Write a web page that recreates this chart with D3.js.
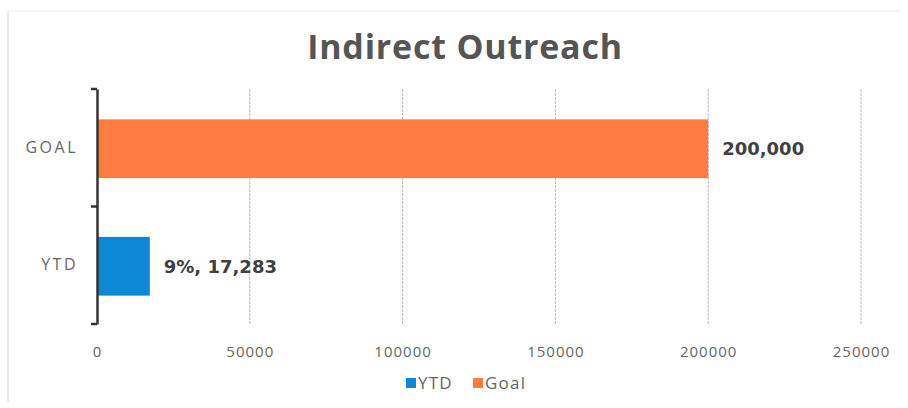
<!DOCTYPE html>
<html>
<head>
<meta charset="utf-8">
<script src="https://cdn.jsdelivr.net/npm/d3@7"></script>
<style>
  body { margin: 0; background: #fff; }
  svg { font-family: 'Open Sans', 'Liberation Sans', sans-serif; }
</style>
</head>
<body>
<svg id="chart"></svg>
<script>
const categories = ['GOAL', 'YTD'];
const values = [200000, 17283];
const barLabels = ['200,000', '9%, 17,283'];
const seriesNames = ['Goal', 'YTD'];
const legendNames = ['YTD', 'Goal'];
const xTicks = [0, 50000, 100000, 150000, 200000, 250000];

const width = 908;
const height = 408;

const colors = { YTD: '#0b89d6', Goal: '#fe7c42' };

const svg = d3.select('#chart')
  .attr('width', width)
  .attr('height', height);

// faint scan frame
svg.append('line')
  .attr('x1', 8).attr('x2', 8).attr('y1', 12).attr('y2', 402)
  .attr('stroke', '#d4d4d4').attr('stroke-width', 1);
svg.append('line')
  .attr('x1', 8).attr('x2', 900).attr('y1', 11).attr('y2', 11)
  .attr('stroke', '#ececec').attr('stroke-width', 1);

const margin = { top: 89, left: 97, right: 47, bottom: 84 };
const x = d3.scaleLinear()
  .domain([0, 250000])
  .range([margin.left, width - margin.right]);

const y = d3.scaleBand()
  .domain(categories)
  .range([margin.top, height - margin.bottom])
  .paddingInner(0.5)
  .paddingOuter(0.25);

svg.append('text')
  .attr('x', 465)
  .attr('y', 59)
  .attr('text-anchor', 'middle')
  .attr('font-size', 34)
  .attr('font-weight', 'bold')
  .attr('letter-spacing', 0.8)
  .attr('fill', '#555')
  .text('Indirect Outreach');

// gridlines
svg.append('g')
  .selectAll('line')
  .data(xTicks.slice(1))
  .join('line')
  .attr('x1', d => x(d)).attr('x2', d => x(d))
  .attr('y1', margin.top).attr('y2', height - margin.bottom)
  .attr('stroke', '#b8b8b8')
  .attr('stroke-width', 1)
  .attr('stroke-dasharray', '3,1');

// x tick labels
const xAxis = svg.append('g')
  .attr('transform', `translate(0,${height - margin.bottom})`)
  .call(d3.axisBottom(x).tickValues(xTicks).tickFormat(d3.format('d')).tickSize(0).tickPadding(22));
xAxis.select('.domain').remove();
xAxis.selectAll('text')
  .attr('font-size', 15)
  .attr('letter-spacing', 1)
  .attr('fill', '#666')
  .attr('font-family', "'Open Sans', sans-serif");

// bars
const barData = categories.map((c, i) => ({ cat: c, value: values[i], series: seriesNames[i], label: barLabels[i] }));
svg.append('g')
  .selectAll('rect')
  .data(barData)
  .join('rect')
  .attr('x', x(0))
  .attr('y', d => y(d.cat) + 1)
  .attr('width', d => x(d.value) - x(0))
  .attr('height', y.bandwidth())
  .attr('fill', d => colors[d.series]);

svg.append('g')
  .selectAll('text')
  .data(barData)
  .join('text')
  .attr('x', d => x(d.value) + 14)
  .attr('y', d => y(d.cat) + y.bandwidth() / 2 + 1)
  .attr('dy', '0.35em')
  .attr('font-size', 18)
  .attr('font-weight', 'bold')
  .attr('fill', '#404040')
  .attr('font-family', "'DejaVu Sans', sans-serif")
  .text(d => d.label);

// y axis (bracket style)
const yAxis = svg.append('g')
  .attr('transform', `translate(${margin.left},0)`)
  .call(d3.axisLeft(y).tickSize(0).tickPadding(19));
yAxis.select('.domain')
  .attr('stroke', '#333')
  .attr('stroke-width', 2.5);
yAxis.selectAll('text')
  .attr('font-size', 16)
  .attr('letter-spacing', 2.5)
  .attr('fill', '#666')
  .attr('font-family', "'Open Sans', sans-serif");
const yEdges = [margin.top, (y('GOAL') + y.bandwidth() + y('YTD')) / 2, height - margin.bottom];
svg.append('g')
  .selectAll('line')
  .data(yEdges)
  .join('line')
  .attr('x1', margin.left - 6).attr('x2', margin.left)
  .attr('y1', d => d).attr('y2', d => d)
  .attr('stroke', '#333')
  .attr('stroke-width', 2.5);

// legend
const legend = svg.append('g').attr('transform', 'translate(406,383)');
let lx = 0;
legendNames.forEach(name => {
  const item = legend.append('g').attr('transform', `translate(${lx},0)`);
  item.append('rect')
    .attr('x', 0).attr('y', -5)
    .attr('width', 10).attr('height', 10)
    .attr('fill', colors[name]);
  item.append('text')
    .attr('x', 12).attr('y', 0)
    .attr('dy', '0.35em')
    .attr('font-size', 17)
    .attr('letter-spacing', 1.2)
    .attr('fill', '#666')
    .text(name);
  lx += 67;
});
</script>
</body>
</html>
